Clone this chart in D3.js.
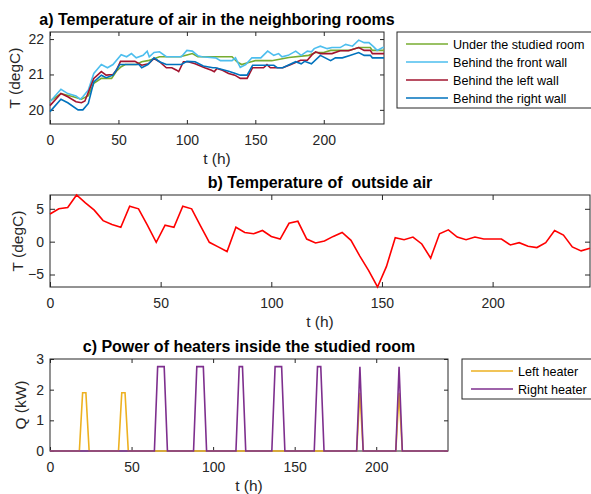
<!DOCTYPE html>
<html>
<head>
<meta charset="utf-8">
<script src="https://cdn.jsdelivr.net/npm/d3@7"></script>
<style>
  body { margin: 0; background: #fff; }
  svg { font-family: "Liberation Sans", Arial, Helvetica, sans-serif; }
  .axis text { font-size: 14px; fill: #262626; }
  .axis line { stroke: #262626; }
</style>
</head>
<body>
<script>

// ---- data ----

// a) neighbouring rooms, [hour, degC]
let underRoom = [[0,20.25],[8,20.46],[17,20.37],[23,20.3],[28,20.4],[32,20.75],[37.5,20.89],[45,20.89],[48.5,21.09],[52,21.22],[55,21.28],[63,21.28],[67,21.36],[71.5,21.39],[76.5,21.45],[80,21.5],[95,21.5],[100,21.55],[104,21.59],[108,21.5],[133,21.5],[136.5,21.36],[140,21.28],[147,21.36],[150,21.39],[162,21.39],[174.5,21.48],[189,21.54],[194,21.62],[200,21.62],[205,21.68],[218.5,21.68],[225.5,21.76],[234,21.76],[235.5,21.68],[244,21.68]];
let frontWall = [[0,20.23],[8,20.58],[13,20.46],[19,20.39],[22,20.3],[24,20.37],[28,20.56],[32,21.03],[37.5,21.28],[42,21.19],[46,21.28],[52,21.56],[56,21.5],[59.5,21.59],[63,21.47],[68,21.54],[71,21.66],[72.5,21.5],[76,21.62],[80,21.64],[85,21.5],[96,21.5],[100,21.68],[104,21.66],[108,21.53],[111,21.5],[121,21.47],[124.5,21.39],[133,21.39],[135.5,21.47],[139,21.2],[143,21.28],[147.5,21.47],[154,21.47],[159,21.66],[163.5,21.54],[167,21.59],[169.5,21.5],[174,21.54],[179.5,21.66],[183.5,21.54],[188,21.66],[191,21.64],[193,21.73],[197.5,21.8],[202.5,21.73],[206,21.76],[212,21.76],[216,21.85],[221,21.8],[225.5,21.97],[229.5,21.9],[233,21.9],[236.5,21.78],[239,21.68],[243,21.76],[244,21.76]];
let leftWall = [[0,20.12],[8,20.46],[13,20.37],[19,20.23],[23,20.2],[25.5,20.25],[32,20.89],[37.5,21.08],[41,20.98],[46,21.0],[48.5,21.12],[51.5,21.37],[62,21.37],[67,21.26],[72,21.3],[76,21.45],[80,21.36],[85,21.19],[89,21.19],[92.5,21.12],[94,21.08],[97.5,21.36],[101,21.36],[106,21.3],[113,21.19],[118,21.12],[120,21.08],[122,21.17],[126,21.12],[130.5,21.03],[135,20.98],[139,20.89],[144,20.89],[148,21.19],[156,21.19],[158.5,21.28],[161,21.19],[170,21.19],[176,21.28],[183,21.4],[188,21.4],[191.5,21.56],[194,21.64],[197.5,21.59],[206,21.59],[212,21.67],[218,21.67],[225.5,21.76],[229.5,21.68],[234,21.68],[235.5,21.59],[244,21.59]];
let rightWall = [[0,19.95],[8,20.3],[13,20.2],[20.5,20.0],[24,20.0],[28,20.18],[32,20.79],[37.5,20.98],[41,20.91],[46,20.98],[51,21.28],[65,21.28],[67,21.19],[71.5,21.28],[76,21.47],[80,21.36],[85,21.28],[96,21.28],[100,21.37],[106,21.36],[112,21.24],[119,21.19],[121,21.19],[130.5,21.09],[135.5,21.03],[139,20.98],[144,20.98],[148,21.26],[163.5,21.26],[166,21.19],[170,21.19],[179.5,21.36],[183.5,21.3],[186,21.37],[191,21.3],[197.5,21.54],[205,21.39],[208.5,21.47],[213.5,21.47],[218.5,21.53],[225.5,21.62],[229.5,21.54],[234,21.54],[235.5,21.47],[244,21.47]];

let roomNames = ["Under the studied room", "Behind the front wall", "Behind the left wall", "Behind the right wall"];

// b) outside air, one reading every 4 h
let outsideHours = [0,4,8,12,16,20,24,28,32,36,40,44,48,52,56,60,64,68,72,76,80,84,88,92,96,100,104,108,112,116,120,124,128,132,136,140,144,148,152,156,160,164,168,172,176,180,184,188,192,196,200,204,208,212,216,220,224,228,232,236,240,244];
let outsideTemp = [4.2,5.0,5.2,7.1,5.9,4.8,3.2,2.6,2.2,5.4,5.0,2.5,-0.1,2.5,2.2,5.4,5.0,2.4,-0.1,-0.8,-1.5,2.2,1.4,1.2,1.7,0.8,0.4,2.8,3.1,0.4,-0.2,0.1,0.8,1.4,0.2,-2.2,-4.4,-6.9,-3.8,0.6,0.3,0.7,-0.35,-2.5,1.2,1.8,0.7,0.3,0.7,0.4,0.4,0.4,-0.5,-0.15,-0.7,-0.9,-0.15,1.7,1.0,-0.8,-1.4,-1.0];

// c) heaters, break points
let leftHeaterHours = [0,18,20,22,24,42,44,46,48,188,190,192,212,214,216,244];
let leftHeaterKW    = [0,0,1.9,1.9,0,0,1.9,1.9,0,0,1.9,0,0,1.9,0,0];
let rightHeaterHours = [0,64,66,70,72,88,90,94,96,114,116,118,120,136,138,142,144,162,164,166,168,188,190,192,212,214,216,244];
let rightHeaterKW    = [0,0,2.75,2.75,0,0,2.75,2.75,0,0,2.75,2.75,0,0,2.75,2.75,0,0,2.75,2.75,0,0,2.75,0,0,2.75,0,0];
let heaterNames = ["Left heater", "Right heater"];

let xTicks = [0, 50, 100, 150, 200];

// ---- drawing ----

let svg = d3.select("body").append("svg").attr("width", 591).attr("height", 494);
let fmt = d3.format("~g");

// draws box, inward ticks on all four sides, labels and title
function panel(p) {
    let x = d3.scaleLinear().domain([0, 244]).range([p.left, p.right]);
    let y = d3.scaleLinear().domain(p.yDomain).range([p.bottom, p.top]);
    let tl = p.tick;

    svg.append("g").attr("class", "axis")
        .attr("transform", "translate(0," + p.bottom + ")")
        .call(d3.axisBottom(x).tickValues(xTicks).tickFormat(fmt).tickSize(-tl).tickPadding(11))
        .call(g => g.select(".domain").remove());
    svg.append("g").attr("class", "axis")
        .attr("transform", "translate(0," + p.top + ")")
        .call(d3.axisTop(x).tickValues(xTicks).tickSize(-tl).tickFormat(""))
        .call(g => g.select(".domain").remove());
    svg.append("g").attr("class", "axis")
        .attr("transform", "translate(" + p.left + ",0)")
        .call(d3.axisLeft(y).tickValues(p.yTicks).tickFormat(fmt).tickSize(-tl).tickPadding(6))
        .call(g => g.select(".domain").remove());
    svg.append("g").attr("class", "axis")
        .attr("transform", "translate(" + p.right + ",0)")
        .call(d3.axisRight(y).tickValues(p.yTicks).tickSize(-tl).tickFormat(""))
        .call(g => g.select(".domain").remove());

    svg.append("rect")
        .attr("x", p.left).attr("y", p.top)
        .attr("width", p.right - p.left).attr("height", p.bottom - p.top)
        .attr("fill", "none").attr("stroke", "#262626").attr("stroke-width", 1);

    let cx = (p.left + p.right) / 2;
    svg.append("text")
        .attr("x", cx).attr("y", p.top - 7)
        .attr("text-anchor", "middle")
        .style("font-size", "16px").style("font-weight", "bold")
        .style("white-space", "pre")
        .text(p.title);
    svg.append("text")
        .attr("x", cx).attr("y", p.bottom + 40)
        .attr("text-anchor", "middle")
        .style("font-size", "15.5px").attr("fill", "#262626")
        .text("t (h)");
    svg.append("text")
        .attr("transform", "translate(" + p.yLabelX + "," + (p.top + p.bottom) / 2 + ") rotate(-90)")
        .attr("text-anchor", "middle")
        .style("font-size", "15.5px").attr("fill", "#262626")
        .text(p.yLabel);

    return {x: x, y: y};
}

function legend(lx, ly, w, names, colors) {
    let g = svg.append("g").attr("transform", "translate(" + lx + "," + ly + ")");
    g.append("rect")
        .attr("width", w).attr("height", names.length * 18 + 4)
        .attr("fill", "#fff").attr("stroke", "#262626").attr("stroke-width", 1);
    names.forEach((n, i) => {
        let yy = 12 + i * 18;
        g.append("line").attr("x1", 9).attr("x2", 51).attr("y1", yy).attr("y2", yy)
            .attr("stroke", colors[i]).attr("stroke-width", 1.6);
        g.append("text").attr("x", 56).attr("y", yy + 4.5)
            .style("font-size", "12.6px").attr("fill", "#000")
            .text(n);
    });
}

// panel a
let roomColors = ["#77AC30", "#4DBEEE", "#A2142F", "#0072BD"];
let sa = panel({left: 50, right: 384, top: 32, bottom: 124, tick: 4,
    yDomain: [19.6, 22.2], yTicks: [20, 21, 22], yLabelX: 20, yLabel: "T (degC)",
    title: "a) Temperature of air in the neighboring rooms"});
let lineA = d3.line().x(d => sa.x(d[0])).y(d => sa.y(d[1]));
[underRoom, frontWall, leftWall, rightWall].forEach((s, i) => {
    svg.append("path").attr("d", lineA(s))
        .attr("fill", "none").attr("stroke", roomColors[i]).attr("stroke-width", 1.6);
});
legend(397, 32, 196, roomNames, roomColors);

// panel b
let sb = panel({left: 50, right: 590, top: 195, bottom: 287, tick: 5,
    yDomain: d3.extent(outsideTemp), yTicks: [-5, 0, 5], yLabelX: 23, yLabel: "T (degC)",
    title: "b) Temperature of  outside air"});
let lineB = d3.line().x((d, i) => sb.x(outsideHours[i])).y(d => sb.y(d));
svg.append("path").attr("d", lineB(outsideTemp))
    .attr("fill", "none").attr("stroke", "#FF0000").attr("stroke-width", 1.6);

// panel c
let heaterColors = ["#EDB120", "#7E2F8E"];
let sc = panel({left: 50, right: 448, top: 359, bottom: 451, tick: 4,
    yDomain: [0, 3], yTicks: [0, 1, 2, 3], yLabelX: 26, yLabel: "Q (kW)",
    title: "c) Power of heaters inside the studied room"});
let heaters = [[leftHeaterHours, leftHeaterKW], [rightHeaterHours, rightHeaterKW]];
heaters.forEach((h, k) => {
    let line = d3.line().x((d, i) => sc.x(h[0][i])).y(d => sc.y(d));
    svg.append("path").attr("d", line(h[1]))
        .attr("fill", "none").attr("stroke", heaterColors[k]).attr("stroke-width", 1.6);
});
legend(462, 359, 131, heaterNames, heaterColors);

</script>
</body>
</html>
